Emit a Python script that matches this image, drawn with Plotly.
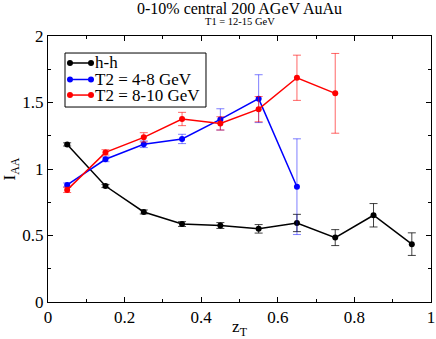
import plotly.graph_objects as go

# I_AA vs z_T, 0-10% central AuAu
zt = [0.05, 0.15, 0.25, 0.35, 0.45, 0.55, 0.65, 0.75, 0.85, 0.95]

hh_y = [1.185, 0.872, 0.677, 0.586, 0.575, 0.550, 0.594, 0.484, 0.652, 0.435]
hh_err = [0.012, 0.012, 0.015, 0.018, 0.022, 0.032, 0.065, 0.06, 0.088, 0.085]

t2a_x = [0.05, 0.15, 0.25, 0.35, 0.45, 0.55, 0.65]
t2a_y = [0.880, 1.073, 1.186, 1.226, 1.373, 1.529, 0.867]
t2a_err = [0.015, 0.018, 0.025, 0.035, 0.08, 0.18, 0.36]

t2b_x = [0.05, 0.15, 0.25, 0.35, 0.45, 0.55, 0.65, 0.75]
t2b_y = [0.843, 1.125, 1.238, 1.376, 1.343, 1.450, 1.686, 1.569]
t2b_err = [0.02, 0.02, 0.035, 0.05, 0.05, 0.095, 0.17, 0.30]

series_names = ["h-h", "T2 = 4-8 GeV", "T2 = 8-10 GeV"]
series_colors = ["black", "blue", "red"]
error_colors = ["rgba(0,0,0,0.75)", "rgba(0,0,255,0.5)", "rgba(255,0,0,0.6)"]

font = "'Liberation Serif', 'DejaVu Serif', serif"

fig = go.Figure()

for x, y, err, name, col, ecol in zip(
    [zt, t2a_x, t2b_x], [hh_y, t2a_y, t2b_y], [hh_err, t2a_err, t2b_err],
    series_names, series_colors, error_colors,
):
    fig.add_trace(go.Scatter(
        x=x, y=y, name=name, mode="lines+markers", showlegend=False,
        line=dict(color=col, width=1.5),
        marker=dict(color=col, size=6),
        error_y=dict(type="data", array=err, color=ecol, thickness=1, width=4),
    ))

# xmgrace-style legend box: line with a dot on each end, tight rows
shapes = [dict(type="rect", xref="paper", yref="paper",
               x0=0.0444, x1=0.4125, y0=0.733, y1=0.936,
               line=dict(color="black", width=1), fillcolor="white", layer="above")]
annotations = []
row_y = [0.8985, 0.8365, 0.778]
for ry, name, col in zip(row_y, series_names, series_colors):
    shapes.append(dict(type="line", xref="paper", yref="paper", x0=0.0574, x1=0.1123,
                       y0=ry, y1=ry, line=dict(color=col, width=1.5), layer="above"))
    for ex in (0.0574, 0.1123):
        shapes.append(dict(type="circle", xref="paper", yref="paper",
                           xsizemode="pixel", ysizemode="pixel", xanchor=ex, yanchor=ry,
                           x0=-3, x1=3, y0=-3, y1=3,
                           fillcolor=col, line=dict(color=col, width=0), layer="above"))
    annotations.append(dict(text=name, x=0.1175, y=ry, xref="paper", yref="paper",
                            xanchor="left", yanchor="middle", showarrow=False,
                            font=dict(family=font, size=17, color="black")))

annotations += [
    dict(text="0-10% central 200 AGeV AuAu", x=0.5, y=1.0, xref="paper", yref="paper",
         yanchor="bottom", yshift=17, showarrow=False,
         font=dict(family=font, size=16, color="black")),
    dict(text="T1 = 12-15 GeV", x=0.5, y=1.0, xref="paper", yref="paper",
         yanchor="bottom", yshift=7, showarrow=False,
         font=dict(family=font, size=10.5, color="black")),
]

axis_common = dict(
    showgrid=False, zeroline=False, showline=True, linecolor="black", linewidth=1,
    mirror="allticks", ticks="inside", ticklen=5, tickcolor="black",
    tickfont=dict(family=font, size=17, color="black"),
    minor=dict(ticks="inside", ticklen=3, tickcolor="black"),
    automargin=False,
)

fig.update_xaxes(
    range=[-0.0001, 1.0001], tick0=0, dtick=0.2, minor_dtick=0.1,
    tickvals=[0, 0.2, 0.4, 0.6, 0.8, 1], ticktext=["0", "0.2", "0.4", "0.6", "0.8", "1"],
    ticklabeloverflow="allow",
    title=dict(text="z<sub>T</sub>", font=dict(family=font, size=17, color="black"), standoff=0),
    **axis_common,
)
fig.update_yaxes(
    range=[-0.0002, 2.0002], tick0=0, dtick=0.5, minor_dtick=0.25,
    tickvals=[0, 0.5, 1, 1.5, 2], ticktext=["0", "0.5", "1", "1.5", "2"],
    title=dict(text="I<sub>AA</sub>", font=dict(family=font, size=17, color="black"), standoff=2),
    **axis_common,
)

fig.update_layout(
    width=436, height=339,
    margin=dict(l=48, r=5, t=36, b=37, autoexpand=False),
    paper_bgcolor="white", plot_bgcolor="white",
    font=dict(family=font, color="black"),
    shapes=shapes,
    annotations=annotations,
)

# page body has a default 8px margin; drop it so the figure fills the window
fig.write_html("out.html", config={"displayModeBar": False},
               post_script="document.body.style.margin = '0';")
